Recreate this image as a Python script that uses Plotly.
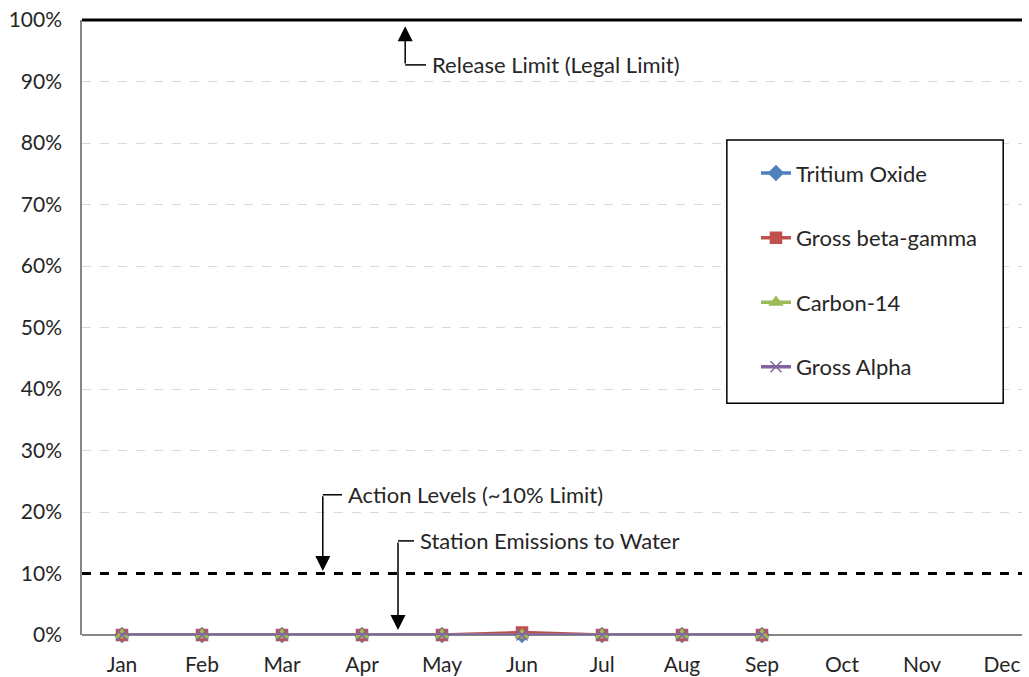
import plotly.graph_objects as go

months = ["Jan", "Feb", "Mar", "Apr", "May", "Jun", "Jul", "Aug", "Sep", "Oct", "Nov", "Dec"]
data_months = ["Jan", "Feb", "Mar", "Apr", "May", "Jun", "Jul", "Aug", "Sep"]
tritium_oxide = [0, 0, 0, 0, 0, 0, 0, 0, 0]
gross_beta_gamma = [0, 0, 0, 0, 0, 0.004, 0, 0, 0]
carbon_14 = [0, 0, 0, 0, 0, 0, 0, 0, 0]
gross_alpha = [0, 0, 0, 0, 0, 0, 0, 0, 0]
release_limit = 1.0
action_level = 0.10
y_ticks = [0, 0.1, 0.2, 0.3, 0.4, 0.5, 0.6, 0.7, 0.8, 0.9, 1.0]
y_tick_labels = ["0%", "10%", "20%", "30%", "40%", "50%", "60%", "70%", "80%", "90%", "100%"]

FONT = "Lato"
TXT = "#262626"
series = [
    ("Tritium Oxide", tritium_oxide, "#4F81BD", "diamond"),
    ("Gross beta-gamma", gross_beta_gamma, "#C0504D", "square"),
    ("Carbon-14", carbon_14, "#9BBB59", "triangle-up"),
    ("Gross Alpha", gross_alpha, "#8064A2", "x-thin-open"),
]

fig = go.Figure()
for i, (name, vals, color, sym) in enumerate(series):
    fig.add_trace(go.Scatter(
        x=data_months, y=vals, name=name, mode="lines+markers",
        line=dict(color=color, width=3.5),
        marker=dict(symbol=sym, size=11, color=color,
                    line=dict(color=color, width=1.5)),
        cliponaxis=False, legendgroup=f"g{i}",
    ))

# Release limit line (100%)
fig.add_shape(type="line", xref="paper", yref="paper", x0=0, x1=1,
              y0=release_limit, y1=release_limit,
              line=dict(color="black", width=3), layer="above")
# Action level dashed line (10%)
fig.add_shape(type="line", xref="paper", yref="y", x0=0, x1=1,
              y0=action_level, y1=action_level,
              line=dict(color="black", width=3, dash="dash"), layer="above")

# Legend frame
fig.add_shape(type="rect", xref="paper", yref="paper", x0=0.686, x1=0.980,
              y0=0.377, y1=0.805, line=dict(color="black", width=1.5),
              fillcolor="white", layer="above")

def elbow(x_stem, x_text, y_text, y_head, text):
    fig.add_shape(type="line", xref="x", yref="y", x0=x_stem, x1=x_text - 0.05,
                  y0=y_text, y1=y_text, line=dict(color="black", width=1.5))
    fig.add_annotation(x=x_stem, y=y_head, ax=x_stem, ay=y_text, xref="x", yref="y",
                       axref="x", ayref="y", showarrow=True, arrowhead=2,
                       arrowsize=2.0, arrowwidth=1.5, arrowcolor="black", text="")
    fig.add_annotation(x=x_text, y=y_text, xref="x", yref="y", text=text,
                       showarrow=False, xanchor="left", yanchor="middle",
                       font=dict(family=FONT, size=22, color=TXT))

elbow(3.54, 3.85, 0.927, 0.99, "Release Limit (Legal Limit)")
elbow(2.51, 2.80, 0.228, 0.104, "Action Levels (~10% Limit)")
elbow(3.45, 3.70, 0.153, 0.008, "Station Emissions to Water")

fig.update_layout(
    width=1029, height=677,
    margin=dict(l=82, r=7, t=20, b=42, autoexpand=False),
    plot_bgcolor="white", paper_bgcolor="white",
    font=dict(family=FONT, size=21, color=TXT),
    showlegend=True,
    legend=dict(x=0.717, y=0.785, xanchor="left", yanchor="top",
                bgcolor="rgba(0,0,0,0)", borderwidth=0,
                traceorder="grouped", tracegroupgap=33,
                font=dict(family=FONT, size=22, color=TXT)),
    xaxis=dict(type="category", categoryorder="array", categoryarray=months,
               range=[-0.5, 11.25], showgrid=False, showline=False,
               zeroline=False, ticks="", ticklabelstandoff=15, automargin=False,
               ticklabeloverflow="allow", tickfont=dict(size=21)),
    yaxis=dict(range=[0, 1], tickvals=y_ticks, ticktext=y_tick_labels,
               showgrid=True, gridcolor="#D9D9D9", griddash="dash", gridwidth=1,
               showline=True, linecolor="#868686", linewidth=1.5,
               zeroline=True, zerolinecolor="#868686", zerolinewidth=1.5,
               ticks="", ticklabelstandoff=14, ticklabeloverflow="allow",
               automargin=False, tickfont=dict(size=21)),
)

fig.write_html("out.html", config={"displayModeBar": False},
               post_script="document.body.style.margin='0';document.body.style.overflow='hidden';")
